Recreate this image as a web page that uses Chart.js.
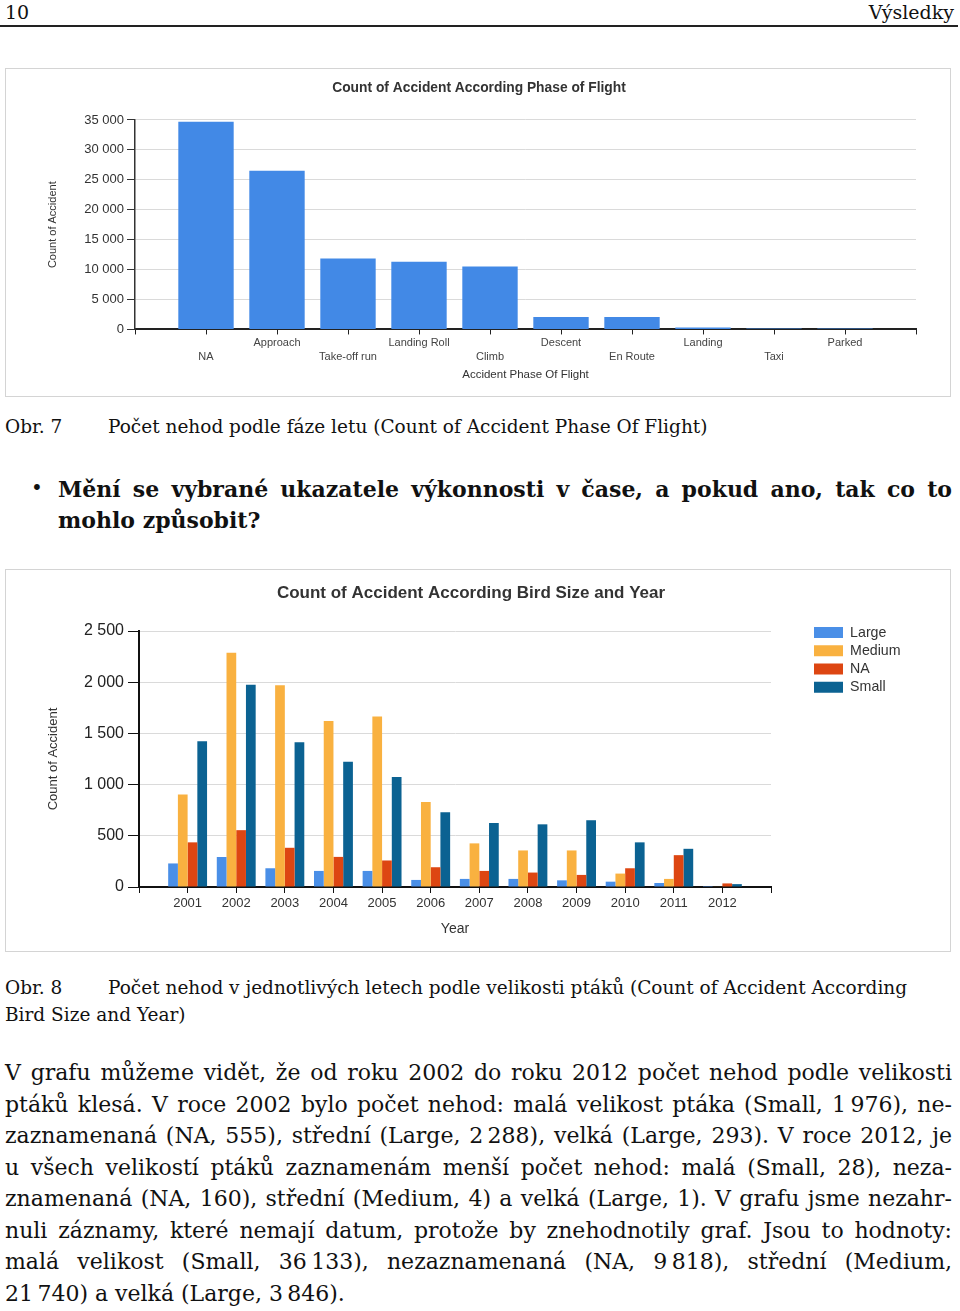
<!DOCTYPE html>
<html lang="cs">
<head>
<meta charset="utf-8">
<script src="https://cdn.jsdelivr.net/npm/chart.js@4.4.1/dist/chart.umd.min.js"></script>
<style>
  html, body { margin: 0; padding: 0; background: #fff; }
  body { position: relative; width: 960px; height: 1311px; overflow: hidden; font-family: "DejaVu Serif", serif; color: #111; }
  .abs { position: absolute; }
  .box { position: absolute; border: 1px solid #d4d4d4; box-sizing: border-box; }
  .cv { position: relative; }
  .just { text-align: justify; text-align-last: justify; white-space: normal; }
  .line { height: 31.5px; line-height: 31.5px; }
</style>
</head>
<body>

<!-- hlavička stránky -->
<div class="abs" style="left:5px; top:0; line-height:24px; font-size:19px;">10</div>
<div class="abs" style="right:6px; top:0; line-height:24px; font-size:19px;">Výsledky</div>
<div class="abs" style="left:0; top:25px; width:958px; height:2px; background:#222;"></div>

<!-- graf 1 -->
<div class="box" style="left:5px; top:68px; width:946px; height:329px;">
  <div class="cv" style="width:944px; height:327px;"><canvas id="phaseChart"></canvas></div>
</div>

<div class="abs" style="left:5px; top:414px; line-height:26px; font-size:18.5px; white-space:nowrap;">
  <span style="display:inline-block; width:103px;">Obr. 7</span>Počet nehod podle fáze letu (Count of Accident Phase Of Flight)
</div>

<div class="abs" style="left:31px; top:473px; line-height:31px; font-size:20px;">•</div>
<div class="abs" style="left:58px; top:473.5px; width:894px; font-size:22px; font-weight:bold;">
  <div class="just" style="line-height:31px; height:31px;">Mění se vybrané ukazatele výkonnosti v&nbsp;čase, a&nbsp;pokud ano, tak co to</div>
  <div style="line-height:31px; height:31px;">mohlo způsobit?</div>
</div>

<!-- graf 2 -->
<div class="box" style="left:5px; top:569px; width:946px; height:383px;">
  <div class="cv" style="width:944px; height:381px;"><canvas id="sizeChart"></canvas></div>
</div>

<div class="abs" style="left:5px; top:973.5px; line-height:27px; font-size:18.5px; white-space:nowrap;">
  <div><span style="display:inline-block; width:103px;">Obr. 8</span>Počet nehod v jednotlivých letech podle velikosti ptáků (Count of Accident According</div>
  <div>Bird Size and Year)</div>
</div>

<!-- text pod grafem -->
<div class="abs" style="left:5px; top:1057px; width:947px; font-size:22px;">
  <div class="just line">V grafu můžeme vidět, že od roku 2002 do roku 2012 počet nehod podle velikosti</div>
  <div class="just line">ptáků klesá. V roce 2002 bylo počet nehod: malá velikost ptáka (Small, 1&#8239;976), ne-</div>
  <div class="just line">zaznamenaná (NA, 555), střední (Large, 2&#8239;288), velká (Large, 293). V roce 2012, je</div>
  <div class="just line">u&nbsp;všech velikostí ptáků zaznamenám menší počet nehod: malá (Small, 28), neza-</div>
  <div class="just line">znamenaná (NA, 160), střední (Medium, 4) a&nbsp;velká (Large, 1). V grafu jsme nezahr-</div>
  <div class="just line">nuli záznamy, které nemají datum, protože by znehodnotily graf. Jsou to hodnoty:</div>
  <div class="just line">malá velikost (Small, 36&#8239;133), nezaznamenaná (NA, 9&#8239;818), střední (Medium,</div>
  <div class="line">21&#8239;740) a&nbsp;velká (Large, 3&#8239;846).</div>
</div>

<script>
// --- data: graf 1 (fáze letu)
const phases = ['NA', 'Approach', 'Take-off run', 'Landing Roll', 'Climb', 'Descent', 'En Route', 'Landing', 'Taxi', 'Parked'];
const phaseCounts = [34700, 26500, 11850, 11300, 10500, 2100, 2100, 330, 170, 170];
const phaseTicks = [0, 5000, 10000, 15000, 20000, 25000, 30000, 35000];

// --- data: graf 2 (velikost ptáka a rok)
const years = ['2001', '2002', '2003', '2004', '2005', '2006', '2007', '2008', '2009', '2010', '2011', '2012'];
const sizeLarge  = [230, 293, 183, 157, 157, 69, 79, 79, 65, 52, 39, 1];
const sizeMedium = [903, 2288, 1970, 1620, 1666, 831, 426, 357, 357, 131, 79, 4];
const sizeNA     = [436, 555, 383, 294, 259, 193, 157, 141, 118, 183, 311, 35];
const sizeSmall  = [1423, 1976, 1413, 1224, 1074, 730, 625, 612, 652, 436, 373, 28];
const sizeTicks = [0, 500, 1000, 1500, 2000, 2500];

Chart.defaults.font.family = 'Arial, "Liberation Sans", sans-serif';
Chart.defaults.color = '#333';

// mezery mezi tisíci: 35 000
function fmt(v) {
  return String(v).replace(/\B(?=(\d{3})+(?!\d))/g, ' ');
}
// prázdné místo na začátku a konci osy x (jako v originále)
function pad(arr, fill) {
  return [fill].concat(arr, [fill]);
}

const gridGray = '#dadada';
const axisDark = '#222';

// graf 1
new Chart(document.getElementById('phaseChart'), {
  type: 'bar',
  data: {
    labels: pad(phases, ''),
    datasets: [{
      label: 'Count of Accident',
      data: pad(phaseCounts, null),
      backgroundColor: '#4289e6',
      categoryPercentage: 0.78,
      barPercentage: 1,
    }],
  },
  options: {
    animation: false,
    responsive: true,
    maintainAspectRatio: false,
    layout: { padding: { left: 36, right: 34, top: 0, bottom: 10.4 } },
    plugins: {
      legend: { display: false },
      tooltip: { enabled: false },
      title: {
        display: true,
        text: 'Count of Accident According Phase of Flight',
        color: '#333',
        font: { size: 13.8, weight: 'bold' },
        padding: { top: 11.2, bottom: 23.2 },
      },
    },
    scales: {
      x: {
        offset: false,
        grid: { offset: false, drawOnChartArea: false, drawTicks: true, tickLength: 5, tickColor: axisDark },
        border: { color: axisDark, width: 2 },
        ticks: {
          autoSkip: false,
          maxRotation: 0,
          padding: 2,
          color: '#444',
          font: { size: 11, lineHeight: 1.27 },
          callback(value) {
            const l = this.getLabelForValue(value);
            if (!l) return '';
            const k = phases.indexOf(l);
            return k % 2 === 0 ? ['', l] : [l, ''];
          },
        },
        title: {
          display: true,
          text: 'Accident Phase Of Flight',
          color: '#333',
          font: { size: 11.5 },
          padding: { top: 1.4, bottom: 4 },
        },
      },
      y: {
        min: 0,
        max: 35000,
        afterBuildTicks(s) { s.ticks = phaseTicks.map(v => ({ value: v })); },
        afterFit(s) { s.width = 93; },
        grid: { color: gridGray, tickColor: '#333', tickLength: 8 },
        border: { color: '#333', width: 1.5 },
        ticks: { padding: 3, color: '#333', font: { size: 13 }, callback: v => fmt(v) },
        title: {
          display: true,
          text: 'Count of Accident',
          color: '#333',
          font: { size: 11 },
          padding: { top: 4.4, bottom: 0 },
        },
      },
    },
  },
});

// graf 2
new Chart(document.getElementById('sizeChart'), {
  type: 'bar',
  data: {
    labels: pad(years, ''),
    datasets: [
      { label: 'Large', data: pad(sizeLarge, null), backgroundColor: '#4a8fe7' },
      { label: 'Medium', data: pad(sizeMedium, null), backgroundColor: '#f9b140' },
      { label: 'NA', data: pad(sizeNA, null), backgroundColor: '#dd4612' },
      { label: 'Small', data: pad(sizeSmall, null), backgroundColor: '#0b6292' },
    ],
  },
  options: {
    animation: false,
    responsive: true,
    maintainAspectRatio: false,
    datasets: { bar: { categoryPercentage: 0.8, barPercentage: 1 } },
    layout: { padding: { left: 36, right: 50, top: 0, bottom: 9.6 } },
    plugins: {
      tooltip: { enabled: false },
      title: {
        display: true,
        text: 'Count of Accident According Bird Size and Year',
        color: '#333',
        font: { size: 17, weight: 'bold' },
        padding: { top: 13.3, bottom: 27.3 },
      },
      legend: {
        position: 'right',
        align: 'start',
        fullSize: true,
        maxWidth: 90,
        title: { display: true, text: '', font: { size: 10 }, padding: { top: 39.5, bottom: 0 } },
        labels: { boxWidth: 29, boxHeight: 11, padding: 4, color: '#333', font: { size: 14.2 } },
      },
    },
    scales: {
      x: {
        offset: false,
        grid: { offset: false, drawOnChartArea: false, drawTicks: true, tickLength: 6, tickColor: '#111' },
        border: { color: '#111', width: 2 },
        ticks: { autoSkip: false, maxRotation: 0, padding: 3.1, color: '#333', font: { size: 13 } },
        title: {
          display: true,
          text: 'Year',
          color: '#333',
          font: { size: 14 },
          padding: { top: 5.8, bottom: 4 },
        },
      },
      y: {
        min: 0,
        max: 2500,
        afterBuildTicks(s) { s.ticks = sizeTicks.map(v => ({ value: v })); },
        afterFit(s) { s.width = 97; },
        grid: { color: gridGray, tickColor: '#111', tickLength: 11 },
        border: { color: '#111', width: 2 },
        ticks: { padding: 4, color: '#222', font: { size: 16 }, callback: v => fmt(v) },
        title: {
          display: true,
          text: 'Count of Accident',
          color: '#333',
          font: { size: 13 },
          padding: { top: 3.2, bottom: 0 },
        },
      },
      // prázdná osa = mezera mezi grafem a legendou
      gap: {
        axis: 'y',
        position: 'right',
        display: true,
        ticks: { display: false },
        grid: { display: false },
        border: { display: false },
        afterFit(s) { s.width = 39; },
      },
    },
  },
});
</script>
</body>
</html>
